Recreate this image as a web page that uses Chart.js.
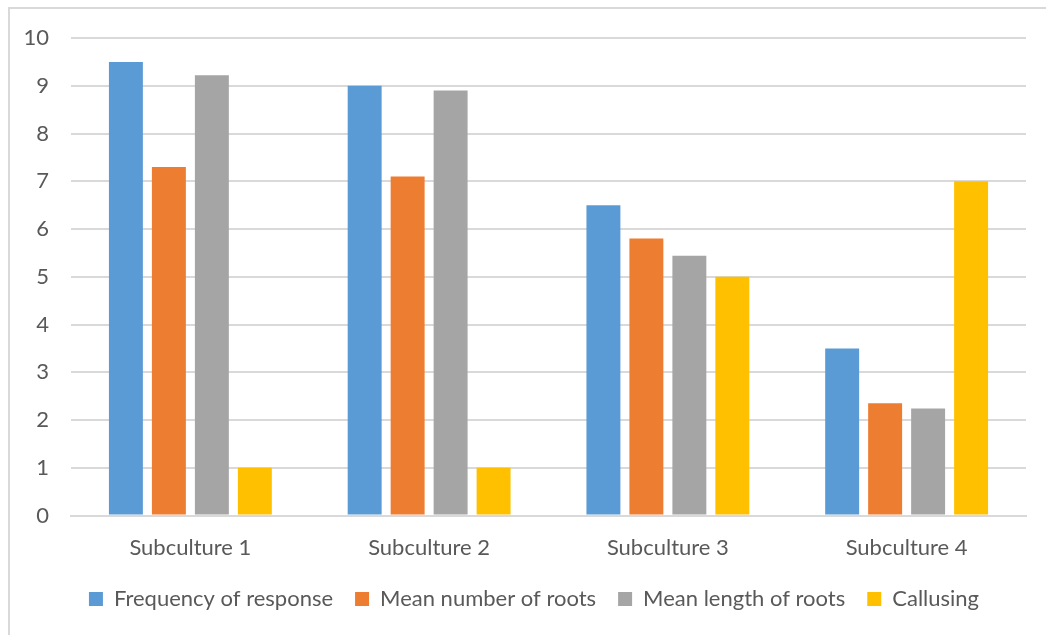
<!DOCTYPE html>
<html>
<head>
<meta charset="utf-8">
<script src="https://cdn.jsdelivr.net/npm/chart.js@4"></script>
<style>
  html, body { margin: 0; padding: 0; background: #fff; }
  #wrap { position: relative; width: 1046px; height: 635px; overflow: hidden; }
  #frame { position: absolute; left: 8px; top: 7px; width: 1100px; height: 700px;
           border-left: 2px solid #d9d9d9; border-top: 2px solid #d9d9d9; box-sizing: border-box; }
  #rootChart { position: absolute; left: 0; top: 0; }
</style>
</head>
<body>
<div id="wrap">
  <div id="frame"></div>
  <canvas id="rootChart" width="1046" height="635"></canvas>
</div>
<script>
// categories and series
const categories = ['Subculture 1', 'Subculture 2', 'Subculture 3', 'Subculture 4'];
const frequency = [9.5, 9.0, 6.5, 3.5];
const meanNumber = [7.3, 7.1, 5.8, 2.35];
const meanLength = [9.22, 8.9, 5.44, 2.24];
const callusing = [1, 1, 5, 7];
const seriesNames = ['Frequency of response', 'Mean number of roots', 'Mean length of roots', 'Callusing'];
const seriesColors = ['#5b9bd5', '#ed7d31', '#a5a5a5', '#ffc000'];

const fontFace = 'Lato, "Open Sans", sans-serif';
Chart.defaults.font.family = fontFace;
Chart.defaults.color = '#595959';

const values = [frequency, meanNumber, meanLength, callusing];

// nudge the legend row to the right a bit
const legendShift = {
    id: 'legendShift',
    afterLayout: function (chart) {
        chart.legend.left += 21;
        chart.legend.right += 21;
    }
};

var ctx = document.getElementById('rootChart').getContext('2d');
var rootChart = new Chart(ctx, {
    type: 'bar',
    data: {
        labels: categories,
        datasets: values.map(function (v, i) {
            return {
                label: seriesNames[i],
                data: v,
                backgroundColor: seriesColors[i],
                borderWidth: 0,
                categoryPercentage: 0.72,
                barPercentage: 0.79
            };
        })
    },
    plugins: [legendShift],
    options: {
        responsive: false,
        animation: false,
        layout: { padding: { left: 0, right: 20, top: 38, bottom: 15 } },
        plugins: {
            tooltip: { enabled: false },
            legend: {
                position: 'bottom',
                labels: {
                    boxWidth: 14,
                    boxHeight: 14,
                    padding: 22,
                    font: { size: 22 },
                    color: '#595959'
                }
            }
        },
        scales: {
            x: {
                // invisible tick marks just push the labels down
                grid: { display: true, drawOnChartArea: false, drawTicks: true, tickLength: 14, color: 'rgba(0,0,0,0)' },
                border: { display: true, color: '#d9d9d9', width: 2 },
                ticks: { font: { size: 22 }, padding: 5, color: '#595959' }
            },
            y: {
                min: 0,
                max: 10,
                ticks: { stepSize: 1, font: { size: 22 }, padding: 22, color: '#595959' },
                grid: { color: '#d9d9d9', lineWidth: 2, drawTicks: false },
                border: { display: false },
                afterFit: function (scale) { scale.width = 71; }
            }
        }
    }
});
</script>
</body>
</html>
